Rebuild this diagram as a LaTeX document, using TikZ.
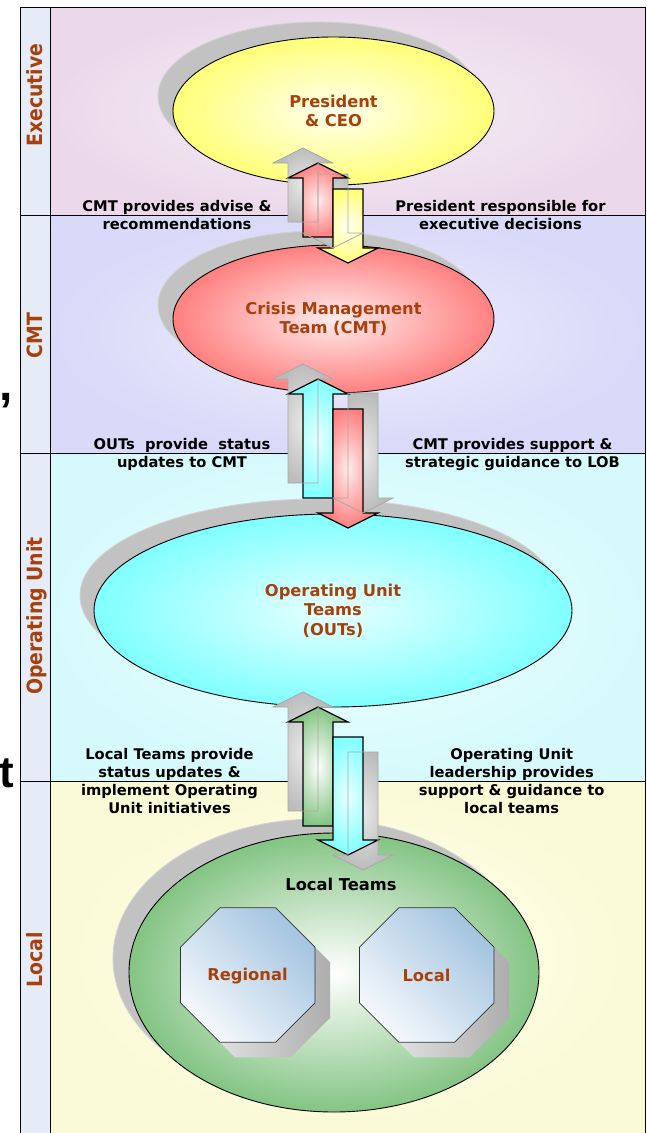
\documentclass[tikz,border=0pt]{standalone}
\usepackage{fontspec}
\usepackage{graphicx}
\setmainfont{DejaVu Sans}
\newfontfamily\strayfont{Liberation Sans}
\usetikzlibrary{shapes.geometric}

\definecolor{lbl}{HTML}{A8400C}
\definecolor{colbg}{HTML}{E6ECF7}
\definecolor{exIn}{HTML}{F7EFF7}
\definecolor{exOut}{HTML}{EBD9EB}
\definecolor{cmIn}{HTML}{EEEEFD}
\definecolor{cmOut}{HTML}{D9D9F9}
\definecolor{ouIn}{HTML}{EEFFFF}
\definecolor{ouOut}{HTML}{D6FAFC}
\definecolor{loIn}{HTML}{FFFFF2}
\definecolor{loOut}{HTML}{FAFAD6}
\definecolor{presIn}{HTML}{FFFFF0}
\definecolor{presOut}{HTML}{FFFF78}
\definecolor{cmtIn}{HTML}{FFECEC}
\definecolor{cmtOut}{HTML}{FF8080}
\definecolor{outIn}{HTML}{E8FFFF}
\definecolor{outOut}{HTML}{80FFFF}
\definecolor{locIn}{HTML}{FFFFFF}
\definecolor{locOut}{HTML}{84C484}
\definecolor{octBlue}{HTML}{A4C4E0}
\definecolor{octWhite}{HTML}{F4F8FC}
\definecolor{shd}{HTML}{C2C2C2}
\definecolor{shdl}{HTML}{D2D2D2}
\definecolor{shdIn}{HTML}{E8E8E8}
\definecolor{shdOut}{HTML}{BCBCBC}
\definecolor{shdLine}{HTML}{A8A8A8}

\newcommand{\blk}[5]{\path[#1] (#2,#3) -- ({#2+30},{#3-(#5)*15}) -- ({#2+15},{#3-(#5)*15}) -- ({#2+15},#4) -- ({#2-15},#4) -- ({#2-15},{#3-(#5)*15}) -- ({#2-30},{#3-(#5)*15}) -- cycle;}
\newcommand{\octo}[4]{\path[#1] (#2,#3) +(22.5:#4) -- +(67.5:#4) -- +(112.5:#4) -- +(157.5:#4) -- +(202.5:#4) -- +(247.5:#4) -- +(292.5:#4) -- +(337.5:#4) -- cycle;}

\begin{document}
\begin{tikzpicture}[x=1pt,y=-1pt,
  frame/.style={draw=black, line width=0.9pt},
  lane/.style={font=\bfseries\fontsize{21}{21}\selectfont, text=lbl, rotate=90, anchor=base, inner sep=0},
  note/.style={font=\bfseries\fontsize{14.7}{18}\selectfont, align=center, inner sep=0, text=black},
  inner/.style={font=\bfseries\fontsize{16.3}{19.5}\selectfont, text=lbl, align=center},
  ell/.style={ellipse, draw=black, line width=0.9pt, inner sep=0},
  ellshadow/.style={ellipse, fill=shd, draw=shdl, line width=0.9pt, inner sep=0},
  shadowfill/.style={inner color=shdIn, outer color=shdOut},
  shadowline/.style={draw=shdLine, line width=0.7pt},
  arr/.style={draw=black, line width=1.2pt, line join=miter},
  redarr/.style={arr, inner color=cmtIn, outer color=cmtOut},
  yelarr/.style={arr, inner color=presIn, outer color=presOut},
  cyanarr/.style={arr, inner color=outIn, outer color=outOut},
  greenarr/.style={arr, inner color=locIn, outer color=locOut},
  octfill/.style={draw=black!80, line width=0.8pt, shading=axis, top color=octBlue, bottom color=octWhite, shading angle=-45},
  octshadow/.style={left color=black!8, right color=black!32}
]
\useasboundingbox (0,0) rectangle (647,1133);

% bands
\path[inner color=exIn, outer color=exOut] (50,7) rectangle (645.5,215);
\path[inner color=cmIn, outer color=cmOut] (50,215) rectangle (645.5,453);
\path[inner color=ouIn, outer color=ouOut] (50,453) rectangle (645.5,781);
\path[inner color=loIn, outer color=loOut] (50,781) rectangle (645.5,1133);
\fill[colbg] (20,7) rectangle (50,1133);

% frame
\draw[frame] (20,1133) -- (20,7) -- (645.5,7) -- (645.5,1133);
\draw[frame] (50,7) -- (50,1133);
\draw[frame] (20,215) -- (645.5,215);
\draw[frame] (20,453) -- (645.5,453);
\draw[frame] (20,781) -- (645.5,781);

% lane labels
\node[lane] (lexec) at (42,95) {\scalebox{0.9}[1]{Executive}};
\node[lane] (lcmt) at (42,335.5) {\scalebox{0.9}[1]{CMT}};
\node[lane] (lou) at (42,616) {\scalebox{0.9}[1]{Operating Unit}};
\node[lane] (lloc) at (42,959.5) {\scalebox{0.9}[1]{Local}};

% stray characters
\node[anchor=base east, inner sep=0, font=\strayfont\bfseries\fontsize{44}{44}\selectfont] (strayt) at (14.3,787.5) {t};
\node[anchor=base west, inner sep=0, font=\strayfont\bfseries\fontsize{48}{48}\selectfont] (straycomma) at (-0.7,400) {,};

% notes
\node[note] (n1) at (177,215) {CMT provides advise \&\\recommendations};
\node[note] (n2) at (500.5,215) {President responsible for\\executive decisions};
\node[note] (n3) at (182,454.5) {OUTs\ \ provide\ \ status\\updates to CMT};
\node[note] (n4) at (512.5,454.5) {CMT provides support \&\\strategic guidance to LOB};
\node[note] (n5) at (169.5,781) {Local Teams provide\\status updates \&\\implement Operating\\Unit initiatives};
\node[note] (n6) at (511.7,781) {Operating Unit\\leadership provides\\support \& guidance to\\local teams};

% ellipses
\node[ellshadow, minimum width=321pt, minimum height=148pt] (presS) at (318.5,96) {};
\node[ell, inner color=presIn, outer color=presOut, minimum width=321pt, minimum height=148pt, inner] (pres) at (333.5,111) {President\\\& CEO};

\node[ellshadow, minimum width=321pt, minimum height=148pt] (cmtS) at (318.5,305) {};
\node[ell, inner color=cmtIn, outer color=cmtOut, minimum width=321pt, minimum height=148pt, inner] (cmt) at (333.5,319) {Crisis Management\\Team (CMT)};

\node[ellshadow, minimum width=478pt, minimum height=193pt] (ouS) at (319,595.5) {};
\node[ell, inner color=outIn, outer color=outOut, minimum width=478pt, minimum height=193pt, inner] (ou) at (333,610.5) {Operating Unit\\Teams\\(OUTs)};

\node[ellshadow, minimum width=410pt, minimum height=279pt] (locS) at (318,958.5) {};
\node[ell, inner color=locIn, outer color=locOut, minimum width=410pt, minimum height=279pt] (loc) at (334,972.5) {};
\node[inner, text=black] (loct) at (341,884) {Local Teams};

% octagons
\octo{octshadow}{262.75}{990}{72.8}
\octo{octfill}{247.75}{975}{72.8}
\node[inner] (reg) at (247.5,976) {Regional};
\octo{octshadow}{441.75}{990}{72.8}
\octo{octfill}{426.75}{975}{72.8}
\node[inner] (locl) at (426.5,975) {Local};

% arrows set 1
\blk{shadowfill}{303}{148}{222}{-1}
\blk{shadowfill}{333}{248}{174}{1}
\blk{redarr}{318}{163}{237}{-1}
\blk{yelarr}{348}{263}{189}{1}
\blk{shadowline}{303}{148}{222}{-1}
\blk{shadowline}{333}{248}{174}{1}

% arrows set 2
\blk{shadowfill}{303}{364}{483}{-1}
\blk{shadowfill}{363}{513}{393}{1}
\blk{cyanarr}{318}{379}{498}{-1}
\blk{redarr}{348}{528}{409}{1}
\blk{shadowline}{303}{364}{483}{-1}
\blk{shadowline}{363}{513}{393}{1}

% arrows set 3
\blk{shadowfill}{303}{692}{811}{-1}
\blk{shadowfill}{363}{870}{752}{1}
\blk{greenarr}{318}{707}{826}{-1}
\blk{cyanarr}{348}{855}{737}{1}
\blk{shadowline}{303}{692}{811}{-1}
\blk{shadowline}{363}{870}{752}{1}

\end{tikzpicture}
\end{document}
